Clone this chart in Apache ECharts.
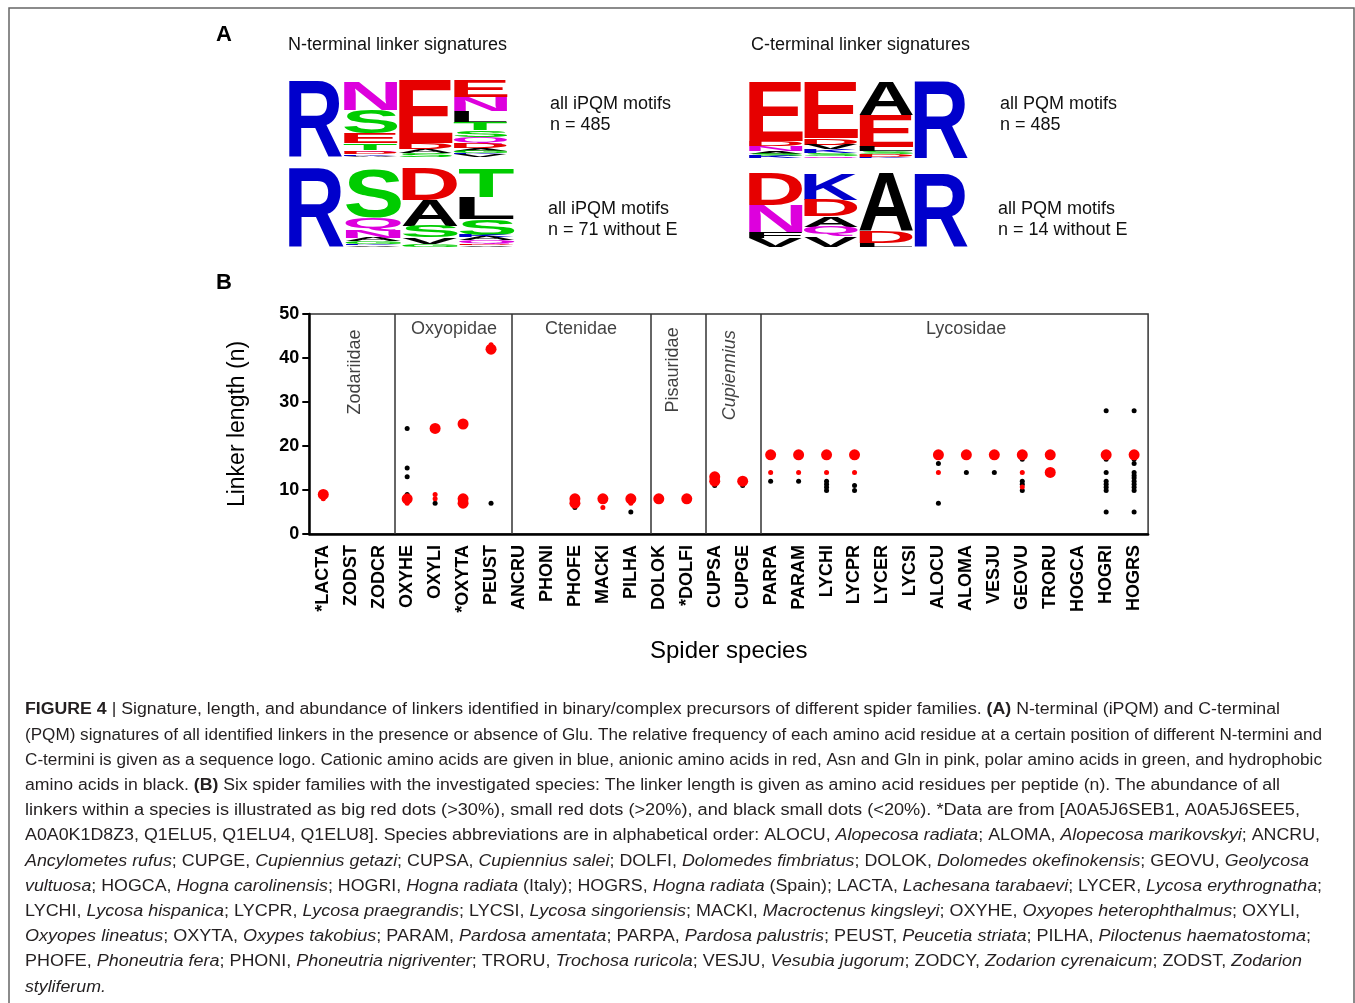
<!DOCTYPE html>
<html><head><meta charset="utf-8">
<script src="https://cdn.jsdelivr.net/npm/echarts@6/dist/echarts.min.js"></script>
<style>html,body{margin:0;padding:0;background:#fff}#c{width:1355px;height:1003px}</style>
</head><body><div id="c"></div>
<script>
// ================= DATA =================
const species = ['*LACTA','ZODST','ZODCR','OXYHE','OXYLI','*OXYTA','PEUST','ANCRU','PHONI','PHOFE','MACKI','PILHA','DOLOK','*DOLFI','CUPSA','CUPGE','PARPA','PARAM','LYCHI','LYCPR','LYCER','LYCSI','ALOCU','ALOMA','VESJU','GEOVU','TRORU','HOGCA','HOGRI','HOGRS'];
const yTickStep = 10;
const yMax = 50;
// big red dots (>30%)
const bigRed = [['*LACTA',9],['OXYHE',8],['OXYLI',24],['*OXYTA',25],['*OXYTA',8],['*OXYTA',7],['PEUST',42],['PHOFE',8],['PHOFE',7],['MACKI',8],['PILHA',8],['DOLOK',8],['*DOLFI',8],['CUPSA',13],['CUPSA',12],['CUPGE',12],['PARPA',18],['PARAM',18],['LYCHI',18],['LYCPR',18],['ALOCU',18],['ALOMA',18],['VESJU',18],['GEOVU',18],['TRORU',18],['TRORU',14],['HOGRI',18],['HOGRS',18]];
// small red dots (>20%)
const smallRed = [['*LACTA',8],['OXYHE',7],['OXYLI',9],['OXYLI',8],['PEUST',43],['MACKI',6],['PILHA',7],['PARPA',14],['PARAM',14],['LYCHI',14],['LYCPR',14],['ALOCU',14],['GEOVU',14],['GEOVU',10.7]];
// black small dots (<20%)
const blackDots = [['OXYHE',24],['OXYHE',15],['OXYHE',13],['OXYHE',9],['OXYLI',7],['PEUST',7],['PHOFE',6],['PILHA',5],['CUPSA',11],['CUPGE',11],['PARPA',12],['PARAM',12],['LYCHI',12],['LYCHI',11.3],['LYCHI',10.6],['LYCHI',9.9],['LYCPR',11],['LYCPR',9.9],['ALOCU',16],['ALOCU',7],['ALOMA',14],['VESJU',14],['GEOVU',17],['GEOVU',12],['GEOVU',11.3],['GEOVU',9.9],['HOGRI',28],['HOGRI',17],['HOGRI',14],['HOGRI',12],['HOGRI',11.3],['HOGRI',10.6],['HOGRI',9.9],['HOGRI',5],['HOGRS',28],['HOGRS',17],['HOGRS',16],['HOGRS',14],['HOGRS',13.3],['HOGRS',12.7],['HOGRS',12],['HOGRS',11.3],['HOGRS',10.6],['HOGRS',9.9],['HOGRS',5]];
const familyNames = ['Zodariidae','Oxyopidae','Ctenidae','Pisauridae','Cupiennius','Lycosidae'];
// family separators (in category-index units)
const familySeparators = [2.56, 6.75, 11.71, 13.68, 15.65];

// sequence logos: per position, residues top->bottom with relative share (%)
const logoPositions = ['1','2','3','4'];
const logoNTop = [
  [['R',100]],
  [['N',38],['S',31],['E',13],['T',9],['Q',3],['D',2.5],['K',2],['A',1.5]],
  [['E',82],['D',8],['A',5.5],['S',4.5]],
  [['E',22],['N',18],['L',15],['T',10],['S',9],['Q',8],['D',6],['A',4],['G',3],['K',2],['V',3]]
];
const logoNBot = [
  [['R',100]],
  [['S',63],['Q',17],['N',9],['A',4],['G',3],['K',2],['V',2]],
  [['D',40],['A',33],['S',15],['V',8],['G',4]],
  [['T',37],['L',28],['S',20],['K',3],['A',4],['Q',4],['D',2],['V',2]]
];
const logoCTop = [
  [['E',77],['D',7],['N',6],['A',4],['S',3],['K',3]],
  [['E',74],['D',8],['V',6],['K',5],['S',4],['Q',3]],
  [['A',44],['E',41],['L',6],['S',4],['D',3],['K',2]],
  [['R',100]]
];
const logoCBot = [
  [['D',43],['N',37],['F',8],['V',12]],
  [['K',36],['D',22],['A',14.5],['Q',13],['V',14.5]],
  [['A',79],['D',16],['L',5]],
  [['R',100]]
];

// ================= TEXT =================
const captionLines = [
 '{b|FIGURE 4} | Signature, length, and abundance of linkers identified in binary/complex precursors of different spider families. {b|(A)} N-terminal (iPQM) and C-terminal',
 '(PQM) signatures of all identified linkers in the presence or absence of Glu. The relative frequency of each amino acid residue at a certain position of different N-termini and',
 'C-termini is given as a sequence logo. Cationic amino acids are given in blue, anionic amino acids in red, Asn and Gln in pink, polar amino acids in green, and hydrophobic',
 'amino acids in black. {b|(B)} Six spider families with the investigated species: The linker length is given as amino acid residues per peptide (n). The abundance of all',
 'linkers within a species is illustrated as big red dots (>30%), small red dots (>20%), and black small dots (<20%). *Data are from [A0A5J6SEB1, A0A5J6SEE5,',
 'A0A0K1D8Z3, Q1ELU5, Q1ELU4, Q1ELU8]. Species abbreviations are in alphabetical order: ALOCU, {i|Alopecosa radiata}; ALOMA, {i|Alopecosa marikovskyi}; ANCRU,',
 '{i|Ancylometes rufus}; CUPGE, {i|Cupiennius getazi}; CUPSA, {i|Cupiennius salei}; DOLFI, {i|Dolomedes fimbriatus}; DOLOK, {i|Dolomedes okefinokensis}; GEOVU, {i|Geolycosa}',
 '{i|vultuosa}; HOGCA, {i|Hogna carolinensis}; HOGRI, {i|Hogna radiata} (Italy); HOGRS, {i|Hogna radiata} (Spain); LACTA, {i|Lachesana tarabaevi}; LYCER, {i|Lycosa erythrognatha};',
 'LYCHI, {i|Lycosa hispanica}; LYCPR, {i|Lycosa praegrandis}; LYCSI, {i|Lycosa singoriensis}; MACKI, {i|Macroctenus kingsleyi}; OXYHE, {i|Oxyopes heterophthalmus}; OXYLI,',
 '{i|Oxyopes lineatus}; OXYTA, {i|Oxypes takobius}; PARAM, {i|Pardosa amentata}; PARPA, {i|Pardosa palustris}; PEUST, {i|Peucetia striata}; PILHA, {i|Piloctenus haematostoma};',
 'PHOFE, {i|Phoneutria fera}; PHONI, {i|Phoneutria nigriventer}; TRORU, {i|Trochosa ruricola}; VESJU, {i|Vesubia jugorum}; ZODCY, {i|Zodarion cyrenaicum}; ZODST, {i|Zodarion}',
 '{i|styliferum.}'
];

// ================= LAYOUT / STYLE =================
const FONT = 'Liberation Sans';
const captionLeft = 25, captionTop = 710, captionStep = 25.2;
const captionRight = [1280,1322,1322,1280,1300,1320,1309,1322,1300,1311,1302,null];
const familyLabelPos = [[1.13,36.8,90,false],[4.675,46.6,0,false],[9.22,46.6,0,false],[12.5,37.3,90,false],[14.54,36.1,90,true],[22.99,46.6,0,false]];
const logoGrids = [
  {left:288, top:80.7, width:220, height:76},
  {left:288, top:168.5, width:227, height:78.2},
  {left:748, top:81.7, width:221, height:76.6},
  {left:748, top:173.3, width:221, height:73.4}
];
const aaColor = {R:'#0000cc',K:'#0000cc',H:'#0000cc',D:'#e60000',E:'#e60000',N:'#dd00dd',Q:'#dd00dd',
  S:'#00cc00',T:'#00cc00',G:'#00cc00',Y:'#00cc00',C:'#00cc00'};

// ================= BUILD =================
const mctx = document.createElement('canvas').getContext('2d');
const GLYPH_FONT = 'bold 100px ' + FONT;
const glyphCache = {};
function glyph(L){
  if (glyphCache[L]) return glyphCache[L];
  mctx.font = GLYPH_FONT; mctx.textAlign = 'left'; mctx.textBaseline = 'middle';
  const t = mctx.measureText(L);
  const g = {l:t.actualBoundingBoxLeft, r:t.actualBoundingBoxRight, a:t.actualBoundingBoxAscent, d:t.actualBoundingBoxDescent};
  g.w = g.l + g.r; g.h = g.a + g.d;
  return glyphCache[L] = g;
}
// logo k (0..3) uses xAxis k+2 and yAxis k+1
function logoSeries(logo, k){
  const items = [], letters = [];
  logo.forEach((col, ci) => {
    let y = col.reduce((s, d) => s + d[1], 0);
    col.forEach(([L, h]) => { items.push([ci, y - h, y]); letters.push(L); y -= h; });
  });
  return {
    type:'custom', xAxisIndex: k + 2, yAxisIndex: k + 1, data: items, silent: true, animation:false,
    renderItem(params, api){
      const L = letters[params.dataIndex];
      const c = api.value(0);
      const p0 = api.coord([c, api.value(1)]), p1 = api.coord([c, api.value(2)]);
      const bw = api.size([1, 0])[0];
      const rx = p0[0] - bw/2 + 0.6, rw = bw - 1.2;
      const ry = p1[1], rh = p0[1] - p1[1];
      if (rh < 0.4) return null;
      const g = glyph(L);
      const sx = rw / g.w, sy = rh / g.h;
      const fill = aaColor[L] || '#000000';
      return {type:'text', x: rx + g.l*sx, y: ry + g.a*sy, scaleX: sx, scaleY: sy,
        style:{text:L, fontSize:100, fontWeight:'bold', fontFamily:FONT, fill:fill, textFill:fill,
          align:'left', verticalAlign:'middle', textAlign:'left', textVerticalAlign:'middle'}};
    }
  };
}

function parseRich(s){
  const re = /\{(\w+)\|([^}]*)\}/g; const out = []; let last = 0, m;
  while ((m = re.exec(s))) { if (m.index > last) out.push(['n', s.slice(last, m.index)]); out.push([m[1], m[2]]); last = re.lastIndex; }
  if (last < s.length) out.push(['n', s.slice(last)]);
  return out;
}
const capFont = {n:'16px ' + FONT, b:'bold 16px ' + FONT, i:'italic 16px ' + FONT};
function capWidth(s){ return parseRich(s).reduce((w, [k, t]) => { mctx.font = capFont[k]; return w + mctx.measureText(t).width; }, 0); }
const capScales = captionLines.map((s, i) => captionRight[i] ? (captionRight[i] - captionLeft) / capWidth(s) : null);
const validScales = capScales.filter(v => v);
const avgScale = validScales.reduce((a, b) => a + b, 0) / validScales.length;
const CAP_COLOR = '#231f20';
const captionEls = captionLines.map((s, i) => ({
  type:'text', x: captionLeft, y: captionTop + i*captionStep, scaleX: capScales[i] || avgScale, silent:true,
  style:{text:s, fontSize:16, fontFamily:FONT, fill:CAP_COLOR, textFill:CAP_COLOR,
    align:'left', verticalAlign:'middle', textAlign:'left', textVerticalAlign:'middle',
    rich:{ b:{fontSize:16, fontFamily:FONT, fontWeight:'bold', fill:CAP_COLOR, textFill:CAP_COLOR},
           i:{fontSize:16, fontFamily:FONT, fontStyle:'italic', fill:CAP_COLOR, textFill:CAP_COLOR} } }
}));
function txt(t, x, y, size, opts){
  opts = opts || {};
  const c = opts.color || '#111';
  return {type:'text', x, y, silent:true, style:{text:t, fontSize:size, fontFamily:FONT, fontWeight:opts.bold?'bold':'normal',
    fill:c, textFill:c, align:opts.align||'left', verticalAlign:'middle', textAlign:opts.align||'left', textVerticalAlign:'middle'}};
}
const graphicEls = [
  {type:'rect', shape:{x:9, y:8, width:1345, height:1020}, silent:true, style:{fill:'none', stroke:'#666', lineWidth:1.5}},
  txt('A', 224, 35, 22, {bold:true, align:'center', color:'#000'}),
  txt('B', 224, 283, 22, {bold:true, align:'center', color:'#000'}),
  txt('N-terminal linker signatures', 288, 45, 18),
  txt('C-terminal linker signatures', 751, 45, 18),
  txt('all iPQM motifs', 550, 104, 18), txt('n = 485', 550, 125, 18),
  txt('all iPQM motifs', 548, 209, 18), txt('n = 71 without E', 548, 230, 18),
  txt('all PQM motifs', 1000, 104, 18), txt('n = 485', 1000, 125, 18),
  txt('all PQM motifs', 998, 209, 18), txt('n = 14 without E', 998, 230, 18)
].concat(captionEls);

const dot = (data, color, size, z) => ({type:'scatter', xAxisIndex:0, yAxisIndex:0, data, symbol:'circle', symbolSize:size,
  itemStyle:{color, opacity:1}, z, silent:true, animation:false});

const option = {
  backgroundColor:'#ffffff',
  animation:false,
  grid:[
    {left:309.3, top:314, width:838.8, height:220, show:true, borderColor:'#333', borderWidth:1.5}
  ].concat(logoGrids.map(g => Object.assign({show:false}, g))),
  xAxis:[
    {type:'category', gridIndex:0, data:species, boundaryGap:true,
     axisLine:{onZero:false, lineStyle:{color:'#000', width:2.5}},
     axisTick:{alignWithLabel:true, length:7, lineStyle:{color:'#000', width:2}},
     axisLabel:{interval:0, rotate:90, fontSize:18, fontWeight:'bold', fontFamily:FONT, color:'#000', margin:11},
     splitLine:{show:false},
     name:'Spider species', nameLocation:'middle', nameGap:105, nameTextStyle:{fontSize:24, fontFamily:FONT, color:'#000'}},
    {type:'value', gridIndex:0, min:-0.5, max:species.length - 0.5, show:false, axisLine:{onZero:false}}
  ].concat(logoGrids.map((g, i) => ({type:'category', gridIndex:i+1, data:logoPositions, boundaryGap:true, show:false}))),
  yAxis:[
    {type:'value', gridIndex:0, min:0, max:yMax, interval:yTickStep,
     axisLine:{show:true, onZero:false, lineStyle:{color:'#000', width:2.5}},
     axisTick:{show:true, length:7, lineStyle:{color:'#000', width:2}},
     axisLabel:{fontSize:18, fontWeight:'bold', fontFamily:FONT, color:'#000', margin:10},
     splitLine:{show:false},
     name:'Linker length (n)', nameLocation:'middle', nameRotate:90, nameGap:60, nameTextStyle:{fontSize:23, fontFamily:FONT, color:'#000'}}
  ].concat(logoGrids.map((g, i) => ({type:'value', gridIndex:i+1, min:0, max:100, show:false}))),
  series:[
    {type:'scatter', xAxisIndex:1, yAxisIndex:0, data:[], silent:true,
     markLine:{symbol:'none', silent:true, animation:false, label:{show:false},
       lineStyle:{color:'#333', width:1.5, type:'solid'},
       data: familySeparators.map(v => ({xAxis:v}))}},
    {type:'scatter', xAxisIndex:1, yAxisIndex:0, silent:true, symbolSize:1, itemStyle:{color:'rgba(0,0,0,0)'},
     data: familyNames.map((n, i) => ({name:n, value:[familyLabelPos[i][0], familyLabelPos[i][1]],
       label:{show:true, position:'inside', formatter:'{b}', rotate:familyLabelPos[i][2], fontSize:18, fontFamily:FONT, color:'#111',
         fontStyle: familyLabelPos[i][3] ? 'italic' : 'normal'}}))},
    dot(blackDots, '#000000', 5, 3),
    dot(bigRed, '#ff0000', 11, 4),
    dot(smallRed, '#ff0000', 5, 5),
    logoSeries(logoNTop, 0), logoSeries(logoNBot, 1), logoSeries(logoCTop, 2), logoSeries(logoCBot, 3)
  ],
  graphic:{elements: graphicEls}
};
const chart = echarts.init(document.getElementById('c'), null, {renderer:'canvas'});
chart.setOption(option);
</script></body></html>
